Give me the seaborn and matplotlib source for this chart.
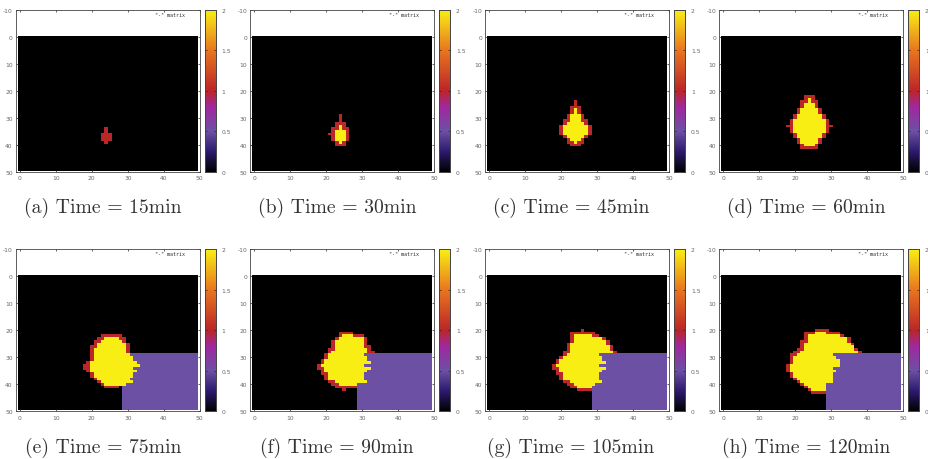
import numpy as np
import matplotlib
matplotlib.use('Agg')
import matplotlib.pyplot as plt
from matplotlib.colors import LinearSegmentedColormap
import seaborn as sns

# 1. DATA

captions = ['(a) Time = 15min', '(b) Time = 30min', '(c) Time = 45min', '(d) Time = 60min',
            '(e) Time = 75min', '(f) Time = 90min', '(g) Time = 105min', '(h) Time = 120min']

x_ticks = [0, 10, 20, 30, 40, 50]
y_ticks = [-10, 0, 10, 20, 30, 40, 50]
cbar_ticks = [0, 0.5, 1, 1.5, 2]
cbar_labels = ['0', '0.5', '1', '1.5', '2']

burning_value = 1
burnt_value = 2
block_value = 0.5

# block of cells in the lower row of panels: first row, first column
block_start = (29, 29)

# fire cells per panel: (row, first column, last column)
red_a = [(34, 24, 24), (35, 24, 24), (36, 23, 25), (37, 23, 25), (38, 23, 25), (39, 24, 24)]
yellow_a = []

red_b = [(29, 24, 24), (30, 24, 24), (31, 24, 24), (32, 23, 25), (33, 23, 25), (34, 22, 26),
         (35, 22, 26), (36, 21, 26), (37, 22, 26), (38, 22, 26), (39, 23, 25), (40, 23, 25)]
yellow_b = [(33, 24, 24), (34, 24, 24), (35, 23, 25), (36, 23, 25), (37, 23, 25), (38, 23, 25),
            (39, 24, 24)]

red_c = [(24, 24, 24), (25, 24, 24), (26, 23, 25), (27, 23, 25), (28, 23, 25), (29, 22, 26),
         (30, 22, 26), (31, 21, 27), (32, 21, 27), (33, 20, 28), (34, 20, 28), (35, 20, 28),
         (36, 20, 28), (37, 21, 27), (38, 22, 26), (39, 22, 26), (40, 23, 25)]
yellow_c = [(27, 24, 24), (28, 24, 24), (29, 23, 25), (30, 23, 25), (31, 23, 25), (32, 22, 26),
            (33, 21, 27), (34, 21, 27), (35, 21, 27), (36, 21, 27), (37, 22, 26), (38, 23, 25),
            (39, 24, 24)]

red_d = [(22, 23, 25), (23, 23, 25), (24, 22, 26), (25, 22, 26), (26, 22, 26), (27, 21, 27),
         (28, 21, 27), (29, 20, 28), (30, 20, 28), (31, 19, 29), (32, 19, 29), (33, 18, 30),
         (34, 19, 29), (35, 19, 29), (36, 20, 28), (37, 20, 28), (38, 21, 27), (39, 21, 27),
         (40, 22, 26), (41, 22, 26)]
yellow_d = [(23, 24, 24), (24, 24, 24), (25, 23, 25), (26, 23, 25), (27, 22, 26), (28, 22, 26),
            (29, 21, 27), (30, 21, 27), (31, 20, 28), (32, 20, 28), (33, 20, 28), (34, 20, 28),
            (35, 20, 28), (36, 21, 27), (37, 21, 27), (38, 22, 26), (39, 22, 26), (40, 23, 25)]

red_e = [(22, 23, 28), (23, 22, 29), (24, 21, 29), (25, 21, 30), (26, 20, 30), (27, 20, 30),
         (28, 20, 30), (29, 20, 30), (30, 20, 31), (31, 20, 31), (32, 19, 32), (33, 18, 33),
         (34, 18, 31), (35, 19, 32), (36, 20, 31), (37, 20, 31), (38, 21, 30), (39, 22, 31),
         (40, 23, 29), (41, 24, 27)]
yellow_e = [(23, 24, 27), (24, 23, 28), (25, 22, 29), (26, 22, 29), (27, 21, 29), (28, 21, 29),
            (29, 21, 30), (30, 21, 31), (31, 21, 31), (32, 20, 32), (33, 20, 33), (34, 20, 31),
            (35, 20, 32), (36, 21, 31), (37, 21, 31), (38, 22, 30), (39, 23, 31), (40, 24, 29)]

red_f = [(21, 24, 27), (22, 24, 30), (23, 23, 31), (24, 22, 31), (25, 22, 31), (26, 22, 32),
         (27, 21, 32), (28, 21, 33), (29, 20, 30), (30, 20, 31), (31, 19, 31), (32, 19, 32),
         (33, 18, 30), (34, 18, 32), (35, 19, 31), (36, 19, 30), (37, 20, 30), (38, 20, 30),
         (39, 21, 31), (40, 22, 28), (41, 23, 28), (42, 25, 25)]
yellow_f = [(22, 25, 27), (23, 24, 30), (24, 23, 30), (25, 23, 30), (26, 23, 30), (27, 23, 31),
            (28, 22, 31), (29, 21, 30), (30, 21, 31), (31, 20, 31), (32, 20, 32), (33, 19, 30),
            (34, 20, 32), (35, 20, 31), (36, 21, 30), (37, 21, 30), (38, 21, 30), (39, 23, 31),
            (40, 24, 28)]

red_g = [(20, 26, 26), (21, 23, 29), (22, 23, 30), (23, 23, 32), (24, 23, 33), (25, 22, 33),
         (26, 22, 34), (27, 22, 34), (28, 21, 35), (29, 21, 30), (30, 20, 31), (31, 19, 31),
         (32, 19, 32), (33, 18, 30), (34, 18, 32), (35, 19, 31), (36, 19, 30), (37, 20, 30),
         (38, 20, 30), (39, 21, 31), (40, 22, 29), (41, 23, 28), (42, 25, 28)]
yellow_g = [(22, 24, 28), (23, 24, 31), (24, 24, 32), (25, 23, 32), (26, 23, 33), (27, 23, 33),
            (28, 23, 34), (29, 22, 30), (30, 21, 31), (31, 20, 31), (32, 20, 32), (33, 19, 30),
            (34, 20, 32), (35, 20, 31), (36, 21, 30), (37, 21, 30), (38, 21, 30), (39, 23, 31),
            (40, 24, 29), (41, 25, 28)]

red_h = [(20, 26, 29), (21, 23, 32), (22, 23, 33), (23, 23, 35), (24, 22, 35), (25, 22, 36),
         (26, 22, 36), (27, 21, 37), (28, 20, 38), (29, 19, 30), (30, 19, 31), (31, 19, 32),
         (32, 19, 32), (33, 18, 32), (34, 18, 30), (35, 18, 31), (36, 19, 30), (37, 19, 30),
         (38, 20, 30), (39, 21, 30), (40, 22, 28), (41, 23, 28), (42, 24, 28), (43, 25, 28)]
yellow_h = [(21, 26, 28), (22, 24, 32), (23, 24, 34), (24, 24, 34), (25, 23, 35), (26, 23, 36),
            (27, 23, 36), (28, 22, 37), (29, 21, 30), (30, 20, 31), (31, 20, 32), (32, 20, 32),
            (33, 19, 32), (34, 19, 30), (35, 19, 31), (36, 20, 30), (37, 20, 30), (38, 21, 30),
            (39, 22, 30), (40, 23, 28), (41, 24, 28), (42, 25, 28)]

red_cells = [red_a, red_b, red_c, red_d, red_e, red_f, red_g, red_h]
yellow_cells = [yellow_a, yellow_b, yellow_c, yellow_d, yellow_e, yellow_f, yellow_g, yellow_h]

cbar_colors = ['#000000', '#2d1a6e', '#6c50a4', '#a0289e', '#bb2528', '#e8751f', '#f8ee14']
cbar_stops = [0, 0.125, 0.25, 0.4, 0.5, 0.75, 1]

# 2. LAYOUT (pixels of the 929x460 picture)

W = 929
H = 460
panel_left = [18, 252.3, 487.3, 721.3]
panel_top = [36.5, 276]
cell_w = 3.6
cell_h = 2.7
caption_center = [103, 337, 571, 806]
caption_y = [208, 448]

cmap = LinearSegmentedColormap.from_list('fire', list(zip(cbar_stops, cbar_colors)), N=256)


def px_box(left, top, width, height):
    return [left / W, 1 - (top + height) / H, width / W, height / H]


fig = plt.figure(figsize=(W / 100, H / 100), dpi=100)

# 3. PANELS

for i in range(8):
    row = i // 4
    col = i % 4
    left = panel_left[col]
    top = panel_top[row]

    grid = np.zeros((50, 50))
    if row == 1:
        grid[block_start[0]:, block_start[1]:] = block_value
    for r, c0, c1 in red_cells[i]:
        grid[r, c0:c1 + 1] = burning_value
    for r, c0, c1 in yellow_cells[i]:
        grid[r, c0:c1 + 1] = burnt_value

    ax = fig.add_axes(px_box(left - 0.5 * cell_w, top - 9.5 * cell_h, 51 * cell_w, 60 * cell_h))
    cax = fig.add_axes(px_box(left + 187, top - 9.5 * cell_h, 11, 60 * cell_h))

    sns.heatmap(grid, ax=ax, cbar_ax=cax, cmap=cmap, vmin=0, vmax=2,
                xticklabels=False, yticklabels=False,
                cbar_kws={'ticks': cbar_ticks})

    ax.set_xlim(-0.5, 50.5)
    ax.set_ylim(50.5, -9.5)
    ax.set_xticks([t + 0.5 for t in x_ticks])
    ax.set_xticklabels([str(t) for t in x_ticks], rotation=0)
    ax.set_yticks([t + 0.5 for t in y_ticks])
    ax.set_yticklabels([str(t) for t in y_ticks], rotation=0)
    ax.tick_params(direction='in', top=True, right=True, length=1.5, width=0.5, pad=2.5,
                   labelsize=4.3, labelcolor='#666666', color='#222222')
    for spine in ax.spines.values():
        spine.set_visible(True)
        spine.set_linewidth(0.6)
        spine.set_color('#444444')

    ax.text(38, -7.8, '"-" matrix', fontsize=3.6, family='DejaVu Sans Mono', color='#333333',
            ha='left', va='center')

    cax.set_yticks(cbar_ticks)
    cax.set_yticklabels(cbar_labels)
    cax.tick_params(direction='in', left=True, right=True, length=1.5, width=0.5, pad=4,
                    labelsize=4.3, labelcolor='#666666', color='#222222')
    for spine in cax.spines.values():
        spine.set_visible(True)
        spine.set_linewidth(0.6)
        spine.set_color('#444444')

    fig.text(caption_center[col] / W, 1 - caption_y[row] / H, captions[i],
             family=['cmr10', 'Liberation Serif'], fontsize=14.2, color='#333333',
             ha='center', va='center')

# 4. SAVE

fig.savefig('out.png', dpi=100)
